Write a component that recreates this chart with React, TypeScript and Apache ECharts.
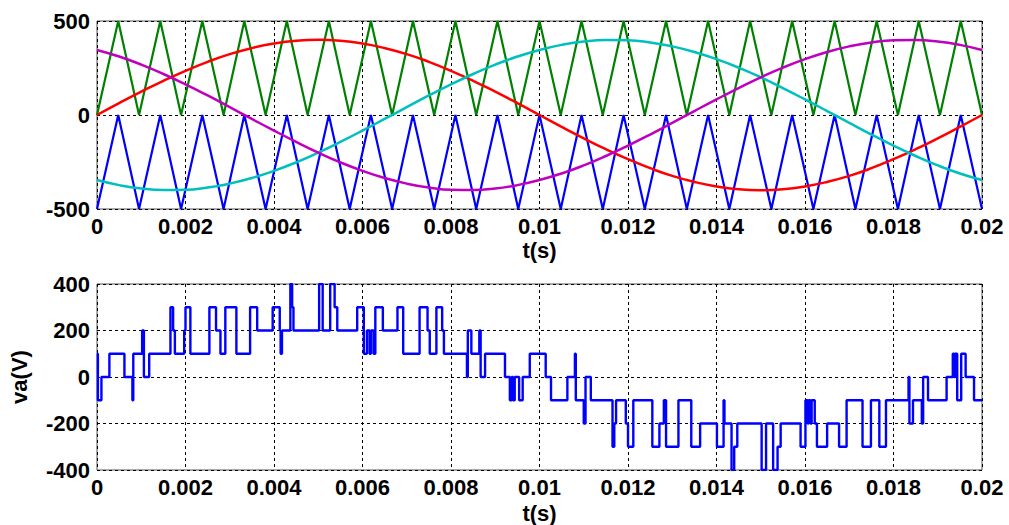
import React, { useEffect, useRef } from "react";
import * as echarts from "echarts";

// ---- Top plot: carriers (vertex times and levels) ----
const carrierTimes = [
  0, 0.00048, 0.00095, 0.00143, 0.0019, 0.00238, 0.00286, 0.00333, 0.00381, 0.00429,
  0.00476, 0.00524, 0.00571, 0.00619, 0.00667, 0.00714, 0.00762, 0.0081, 0.00857, 0.00905,
  0.00952, 0.01, 0.01048, 0.01095, 0.01143, 0.0119, 0.01238, 0.01286, 0.01333, 0.01381,
  0.01429, 0.01476, 0.01524, 0.01571, 0.01619, 0.01667, 0.01714, 0.01762, 0.0181, 0.01857,
  0.01905, 0.01952, 0.02,
];
const carrierUpper = [
  0, 500, 0, 500, 0, 500, 0, 500, 0, 500, 0, 500, 0, 500, 0, 500, 0, 500, 0, 500, 0, 500,
  0, 500, 0, 500, 0, 500, 0, 500, 0, 500, 0, 500, 0, 500, 0, 500, 0, 500, 0, 500, 0,
];
const carrierLower = [
  -500, 0, -500, 0, -500, 0, -500, 0, -500, 0, -500, 0, -500, 0, -500, 0, -500, 0, -500, 0, -500, 0,
  -500, 0, -500, 0, -500, 0, -500, 0, -500, 0, -500, 0, -500, 0, -500, 0, -500, 0, -500, 0, -500,
];

// ---- Top plot: reference waves (sampled every 0.5 ms) ----
const refTimes = [
  0, 0.0005, 0.001, 0.0015, 0.002, 0.0025, 0.003, 0.0035, 0.004, 0.0045,
  0.005, 0.0055, 0.006, 0.0065, 0.007, 0.0075, 0.008, 0.0085, 0.009, 0.0095,
  0.01, 0.0105, 0.011, 0.0115, 0.012, 0.0125, 0.013, 0.0135, 0.014, 0.0145,
  0.015, 0.0155, 0.016, 0.0165, 0.017, 0.0175, 0.018, 0.0185, 0.019, 0.0195, 0.02,
];
const refA = [
  0, 63, 124, 182, 235, 283, 324, 356, 380, 395, 400, 395, 380, 356, 324, 283, 235, 182, 124, 63,
  0, -63, -124, -182, -235, -283, -324, -356, -380, -395, -400, -395, -380, -356, -324, -283, -235, -182, -124, -63, 0,
];
const refB = [
  -346, -373, -391, -399, -398, -386, -365, -335, -297, -252, -200, -143, -83, -21, 42, 104, 163, 218, 268, 311,
  346, 373, 391, 399, 398, 386, 365, 335, 297, 252, 200, 143, 83, 21, -42, -104, -163, -218, -268, -311, -346,
];
const refC = [
  346, 311, 268, 218, 163, 104, 42, -21, -83, -143, -200, -252, -297, -335, -365, -386, -398, -399, -391, -373,
  -346, -311, -268, -218, -163, -104, -42, 21, 83, 143, 200, 252, 297, 335, 365, 386, 398, 399, 391, 373, 346,
];

// ---- Bottom plot: output voltage steps (time at which each level begins) ----
const vaTimes = [
  0, 0.00002, 0.0001, 0.00028, 0.00062, 0.0008, 0.00082, 0.00102, 0.00106, 0.00118,
  0.00166, 0.00172, 0.00176, 0.00197, 0.002, 0.00211, 0.00254, 0.00269, 0.00279, 0.0029,
  0.00315, 0.00346, 0.00362, 0.00397, 0.00413, 0.00415, 0.00418, 0.00437, 0.00441, 0.00444,
  0.00502, 0.0051, 0.00527, 0.00537, 0.00543, 0.00588, 0.00603, 0.0061, 0.00616, 0.00619,
  0.00625, 0.00629, 0.00646, 0.00679, 0.00692, 0.00729, 0.00747, 0.00752, 0.00767, 0.0078,
  0.00784, 0.00836, 0.00838, 0.00846, 0.00864, 0.00867, 0.00877, 0.00922, 0.00933, 0.00937,
  0.0094, 0.00944, 0.00954, 0.00962, 0.00978, 0.01014, 0.01026, 0.01063, 0.0108, 0.01082,
  0.011, 0.01104, 0.01116, 0.01165, 0.01169, 0.01173, 0.01195, 0.012, 0.01212, 0.01255,
  0.01271, 0.01281, 0.01286, 0.01314, 0.01343, 0.01363, 0.01401, 0.01416, 0.01418, 0.01434,
  0.0144, 0.01447, 0.01502, 0.01512, 0.01528, 0.01538, 0.01545, 0.0159, 0.01601, 0.01606,
  0.01608, 0.01612, 0.01615, 0.01622, 0.01627, 0.0165, 0.01677, 0.01694, 0.0173, 0.01749,
  0.01768, 0.01783, 0.01834, 0.01836, 0.01844, 0.01864, 0.01867, 0.01878, 0.0192, 0.01934,
  0.01937, 0.01939, 0.01944, 0.01953, 0.01963, 0.01982, 0.02,
];
const vaLevels = [
  100, -100, 0, 100, 0, -100, 100, 200, 0, 100,
  300, 200, 100, 200, 300, 100, 300, 200, 100, 300,
  100, 300, 200, 300, 200, 100, 200, 400, 300, 200,
  400, 200, 400, 300, 200, 300, 100, 200, 100, 200,
  100, 300, 200, 300, 100, 300, 200, 100, 300, 200,
  100, 0, 200, 100, 200, 0, 100, 0, -100, 0,
  -100, 0, -100, 0, 100, 0, -100, 0, 100, -100,
  -200, 0, -100, -300, -200, -100, -200, -300, -100, -300,
  -200, -100, -300, -100, -300, -200, -300, -100, -200, -400,
  -300, -200, -400, -200, -400, -300, -200, -300, -100, -200,
  -100, -200, -100, -200, -300, -200, -300, -100, -300, -100,
  -300, -100, 0, -200, -100, -200, 0, -100, 0, 100,
  0, 100, -100, 100, 0, -100, -100,
];

const topYTicks = [-500, 0, 500];
const bottomYTicks = [-400, -200, 0, 200, 400];

const FONT = "'Liberation Sans', Arial, sans-serif";
const zip = (xs: number[], ys: number[]) => xs.map((x, i) => [x, ys[i]]);
const fmt = (v: number) => String(parseFloat(Number(v).toFixed(4)));

const labelStyle = { fontFamily: FONT, fontSize: 22, fontWeight: "bold" as const, color: "#000" };
const gridLine = { show: true, lineStyle: { color: "#000", type: [3, 3] as any, width: 1 } };

function xAxisFor(gridIndex: number, gap: number) {
  return {
    gridIndex,
    type: "value" as const,
    min: 0,
    max: 0.02,
    interval: 0.002,
    name: "t(s)",
    nameLocation: "middle" as const,
    nameGap: gap,
    nameTextStyle: labelStyle,
    axisLine: { show: false },
    axisTick: { show: false },
    axisLabel: { ...labelStyle, margin: 6, formatter: fmt },
    splitLine: gridLine,
  };
}

export default function App() {
  const ref = useRef<HTMLDivElement>(null);
  useEffect(() => {
    const chart = echarts.init(ref.current!, null, { renderer: "svg" });
    const line = (name: string, data: number[][], color: string, width: number, extra: any = {}) => ({
      name,
      type: "line",
      data,
      showSymbol: false,
      symbol: "none",
      lineStyle: { color, width },
      itemStyle: { color },
      z: 3,
      ...extra,
    });
    chart.setOption({
      animation: false,
      backgroundColor: "#fff",
      grid: [
        { left: 97, top: 21, width: 885, height: 188, show: true, borderColor: "#555", borderWidth: 1, backgroundColor: "transparent" },
        { left: 97, top: 284, width: 885, height: 187, show: true, borderColor: "#555", borderWidth: 1, backgroundColor: "transparent" },
      ],
      xAxis: [xAxisFor(0, 30), xAxisFor(1, 32)],
      yAxis: [
        {
          gridIndex: 0,
          type: "value",
          min: topYTicks[0],
          max: topYTicks[topYTicks.length - 1],
          interval: 500,
          axisLine: { show: false },
          axisTick: { show: false },
          axisLabel: { ...labelStyle, margin: 7 },
          splitLine: gridLine,
        },
        {
          gridIndex: 1,
          type: "value",
          min: bottomYTicks[0],
          max: bottomYTicks[bottomYTicks.length - 1],
          interval: 200,
          name: "va(V)",
          nameLocation: "middle",
          nameGap: 67,
          nameTextStyle: labelStyle,
          axisLine: { show: false },
          axisTick: { show: false },
          axisLabel: { ...labelStyle, margin: 7 },
          splitLine: gridLine,
        },
      ],
      series: [
        line("carrier+", zip(carrierTimes, carrierUpper), "#008000", 2.2, { xAxisIndex: 0, yAxisIndex: 0 }),
        line("carrier-", zip(carrierTimes, carrierLower), "#0000ff", 2.2, { xAxisIndex: 0, yAxisIndex: 0 }),
        line("va*", zip(refTimes, refA), "#ff0000", 2.5, { xAxisIndex: 0, yAxisIndex: 0, smooth: true }),
        line("vb*", zip(refTimes, refB), "#00bfbf", 2.5, { xAxisIndex: 0, yAxisIndex: 0, smooth: true }),
        line("vc*", zip(refTimes, refC), "#bf00bf", 2.5, { xAxisIndex: 0, yAxisIndex: 0, smooth: true }),
        line("va", zip(vaTimes, vaLevels), "#0000ff", 2.4, { xAxisIndex: 1, yAxisIndex: 1, step: "end" }),
      ],
    });
    return () => chart.dispose();
  }, []);
  return (
    <div
      ref={ref}
      style={{ position: "absolute", left: 0, top: 0, width: 1009, height: 525, background: "#fff" }}
    />
  );
}
